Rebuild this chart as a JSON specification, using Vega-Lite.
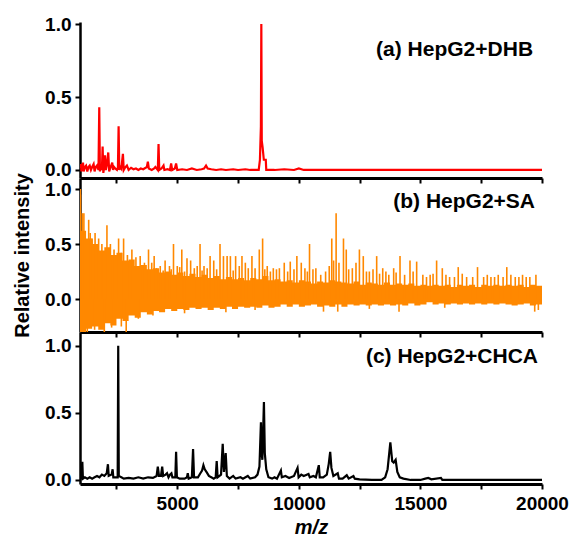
{
  "$schema": "https://vega.github.io/schema/vega-lite/v6.json",
  "autosize": {"type": "pad"},
  "padding": {"left": 12, "top": 15, "right": 0, "bottom": 0},
  "background": "white",
  "spacing": 0,
  "bounds": "flush",
  "config": {
    "view": {"stroke": null},
    "font": "Liberation Sans",
    "axis": {
      "labelFont": "Liberation Sans", "labelFontWeight": "bold", "labelFontSize": 19, "labelColor": "black",
      "titleFont": "Liberation Sans", "titleFontWeight": "bold", "titleFontSize": 20, "titleColor": "black",
      "domainColor": "black", "tickColor": "black", "grid": false, "labelOverlap": false
    },
    "axisX": {"domainWidth": 3, "tickWidth": 2, "tickSize": 5, "labelPadding": 5, "labelFlush": false},
    "axisY": {"domainWidth": 2.5, "tickWidth": 2, "tickSize": 5, "labelPadding": 4}
  },
  "datasets": {
    "a": [
      {"mz":1000,"v":0.01},{"mz":1030,"v":0.04},{"mz":1060,"v":-0.01},{"mz":1090,"v":0.03},{"mz":1123,"v":0.05},{"mz":1150,"v":-0.01},{"mz":1200,"v":0.02},{"mz":1250,"v":0.03},{"mz":1300,"v":-0.01},{"mz":1350,"v":0.02},{"mz":1400,"v":0.03},{"mz":1450,"v":0.0},{"mz":1500,"v":0.02},{"mz":1560,"v":0.04},{"mz":1600,"v":-0.01},{"mz":1650,"v":0.02},{"mz":1700,"v":0.03},{"mz":1760,"v":0.0},{"mz":1792,"v":0.43},{"mz":1820,"v":-0.01},{"mz":1860,"v":0.03},{"mz":1900,"v":0.0},{"mz":1930,"v":0.16},{"mz":1960,"v":-0.02},{"mz":2000,"v":0.03},{"mz":2026,"v":0.1},{"mz":2060,"v":0.0},{"mz":2100,"v":0.03},{"mz":2162,"v":0.12},{"mz":2200,"v":-0.01},{"mz":2260,"v":0.02},{"mz":2326,"v":0.05},{"mz":2360,"v":0.0},{"mz":2400,"v":0.02},{"mz":2450,"v":0.01},{"mz":2520,"v":0.0},{"mz":2560,"v":0.02},{"mz":2588,"v":0.3},{"mz":2615,"v":0.0},{"mz":2660,"v":0.02},{"mz":2700,"v":0.01},{"mz":2765,"v":0.11},{"mz":2800,"v":0.0},{"mz":2870,"v":0.02},{"mz":2929,"v":0.03},{"mz":3000,"v":0.0},{"mz":3100,"v":0.015},{"mz":3200,"v":0.005},{"mz":3300,"v":0.01},{"mz":3400,"v":0.0},{"mz":3500,"v":0.01},{"mz":3600,"v":0.005},{"mz":3700,"v":0.015},{"mz":3750,"v":0.02},{"mz":3791,"v":0.057},{"mz":3830,"v":0.01},{"mz":3950,"v":0.0},{"mz":4050,"v":0.01},{"mz":4100,"v":0.02},{"mz":4200,"v":0.0},{"mz":4230,"v":0.178},{"mz":4260,"v":0.0},{"mz":4350,"v":0.01},{"mz":4435,"v":0.03},{"mz":4470,"v":0.0},{"mz":4600,"v":0.005},{"mz":4700,"v":0.0},{"mz":4748,"v":0.045},{"mz":4790,"v":0.0},{"mz":4900,"v":0.01},{"mz":4952,"v":0.045},{"mz":5000,"v":0.0},{"mz":5200,"v":0.005},{"mz":5400,"v":0.0},{"mz":5600,"v":0.01},{"mz":5800,"v":0.0},{"mz":6000,"v":0.005},{"mz":6100,"v":0.01},{"mz":6183,"v":0.03},{"mz":6250,"v":0.01},{"mz":6400,"v":0.005},{"mz":6600,"v":0.0},{"mz":6800,"v":0.005},{"mz":7000,"v":0.0},{"mz":7300,"v":0.005},{"mz":7500,"v":0.0},{"mz":7800,"v":0.005},{"mz":8000,"v":0.0},{"mz":8350,"v":0.0},{"mz":8400,"v":0.07},{"mz":8440,"v":0.3},{"mz":8457,"v":1.0},{"mz":8475,"v":0.2},{"mz":8510,"v":0.155},{"mz":8560,"v":0.07},{"mz":8640,"v":0.07},{"mz":8660,"v":0.0},{"mz":9000,"v":0.0},{"mz":9400,"v":0.005},{"mz":9800,"v":0.0},{"mz":10000,"v":0.01},{"mz":10200,"v":0.0},{"mz":12000,"v":0.0},{"mz":15000,"v":0.0},{"mz":20000,"v":0.0}
    ],
    "band": [
      {"mz":1000,"lo":-0.3,"hi":0.95},{"mz":1050,"lo":-0.3,"hi":0.62},{"mz":1250,"lo":-0.27,"hi":0.55},{"mz":1500,"lo":-0.25,"hi":0.5},{"mz":1750,"lo":-0.28,"hi":0.44},{"mz":2000,"lo":-0.22,"hi":0.47},{"mz":2250,"lo":-0.24,"hi":0.4},{"mz":2500,"lo":-0.18,"hi":0.42},{"mz":2750,"lo":-0.2,"hi":0.35},{"mz":3000,"lo":-0.15,"hi":0.36},{"mz":3250,"lo":-0.17,"hi":0.3},{"mz":3500,"lo":-0.12,"hi":0.31},{"mz":3750,"lo":-0.14,"hi":0.27},{"mz":4000,"lo":-0.11,"hi":0.28},{"mz":4250,"lo":-0.12,"hi":0.24},{"mz":4500,"lo":-0.09,"hi":0.25},{"mz":4750,"lo":-0.11,"hi":0.22},{"mz":5000,"lo":-0.09,"hi":0.24},{"mz":5250,"lo":-0.1,"hi":0.21},{"mz":5500,"lo":-0.08,"hi":0.23},{"mz":5750,"lo":-0.09,"hi":0.2},{"mz":6000,"lo":-0.08,"hi":0.22},{"mz":6250,"lo":-0.1,"hi":0.19},{"mz":6500,"lo":-0.08,"hi":0.21},{"mz":6750,"lo":-0.09,"hi":0.18},{"mz":7000,"lo":-0.07,"hi":0.2},{"mz":7250,"lo":-0.09,"hi":0.18},{"mz":7500,"lo":-0.07,"hi":0.19},{"mz":7750,"lo":-0.08,"hi":0.17},{"mz":8000,"lo":-0.07,"hi":0.19},{"mz":8250,"lo":-0.08,"hi":0.18},{"mz":8500,"lo":-0.06,"hi":0.21},{"mz":8750,"lo":-0.08,"hi":0.17},{"mz":9000,"lo":-0.07,"hi":0.18},{"mz":9250,"lo":-0.05,"hi":0.16},{"mz":9500,"lo":-0.07,"hi":0.17},{"mz":9750,"lo":-0.05,"hi":0.15},{"mz":10000,"lo":-0.07,"hi":0.17},{"mz":10250,"lo":-0.06,"hi":0.16},{"mz":10500,"lo":-0.05,"hi":0.14},{"mz":10750,"lo":-0.07,"hi":0.16},{"mz":11000,"lo":-0.06,"hi":0.15},{"mz":11250,"lo":-0.07,"hi":0.17},{"mz":11500,"lo":-0.05,"hi":0.16},{"mz":11750,"lo":-0.07,"hi":0.15},{"mz":12000,"lo":-0.05,"hi":0.14},{"mz":12250,"lo":-0.06,"hi":0.16},{"mz":12500,"lo":-0.05,"hi":0.13},{"mz":12750,"lo":-0.06,"hi":0.15},{"mz":13000,"lo":-0.05,"hi":0.14},{"mz":13250,"lo":-0.06,"hi":0.13},{"mz":13500,"lo":-0.05,"hi":0.15},{"mz":13750,"lo":-0.06,"hi":0.13},{"mz":14000,"lo":-0.05,"hi":0.14},{"mz":14250,"lo":-0.06,"hi":0.13},{"mz":14500,"lo":-0.04,"hi":0.14},{"mz":14750,"lo":-0.06,"hi":0.12},{"mz":15000,"lo":-0.05,"hi":0.13},{"mz":15250,"lo":-0.03,"hi":0.12},{"mz":15500,"lo":-0.05,"hi":0.13},{"mz":15750,"lo":-0.04,"hi":0.12},{"mz":16000,"lo":-0.05,"hi":0.13},{"mz":16250,"lo":-0.04,"hi":0.11},{"mz":16500,"lo":-0.05,"hi":0.13},{"mz":16750,"lo":-0.04,"hi":0.12},{"mz":17000,"lo":-0.05,"hi":0.13},{"mz":17250,"lo":-0.04,"hi":0.11},{"mz":17500,"lo":-0.05,"hi":0.13},{"mz":17750,"lo":-0.04,"hi":0.12},{"mz":18000,"lo":-0.05,"hi":0.13},{"mz":18250,"lo":-0.04,"hi":0.12},{"mz":18500,"lo":-0.05,"hi":0.13},{"mz":18750,"lo":-0.06,"hi":0.12},{"mz":19000,"lo":-0.05,"hi":0.13},{"mz":19250,"lo":-0.04,"hi":0.11},{"mz":19500,"lo":-0.06,"hi":0.13},{"mz":19750,"lo":-0.05,"hi":0.12},{"mz":20000,"lo":-0.05,"hi":0.13}
    ],
    "spikes": [
      {"mz":1012,"v":1.0},{"mz":1100,"v":0.78},{"mz":1160,"v":0.78},{"mz":1357,"v":0.72},{"mz":1420,"v":0.6},{"mz":1500,"v":0.55},{"mz":1620,"v":0.6},{"mz":1767,"v":0.55},{"mz":1900,"v":0.5},{"mz":2108,"v":0.67},{"mz":2250,"v":0.5},{"mz":2400,"v":0.45},{"mz":2587,"v":0.55},{"mz":2700,"v":0.42},{"mz":2793,"v":0.55},{"mz":2950,"v":0.4},{"mz":3134,"v":0.45},{"mz":3300,"v":0.38},{"mz":3475,"v":0.39},{"mz":3650,"v":0.33},{"mz":3818,"v":0.45},{"mz":3950,"v":0.33},{"mz":4050,"v":0.39},{"mz":4300,"v":0.3},{"mz":4500,"v":0.35},{"mz":4680,"v":0.3},{"mz":4845,"v":0.5},{"mz":5000,"v":0.3},{"mz":5186,"v":0.45},{"mz":5400,"v":0.37},{"mz":5550,"v":0.35},{"mz":5700,"v":0.28},{"mz":5937,"v":0.5},{"mz":6100,"v":0.3},{"mz":6350,"v":0.39},{"mz":6500,"v":0.35},{"mz":6758,"v":0.5},{"mz":6900,"v":0.39},{"mz":7050,"v":0.39},{"mz":7185,"v":0.39},{"mz":7400,"v":0.39},{"mz":7550,"v":0.3},{"mz":7661,"v":0.39},{"mz":7800,"v":0.33},{"mz":8071,"v":0.39},{"mz":8200,"v":0.28},{"mz":8374,"v":0.45},{"mz":8510,"v":0.55},{"mz":8700,"v":0.3},{"mz":8950,"v":0.28},{"mz":9200,"v":0.28},{"mz":9400,"v":0.33},{"mz":9647,"v":0.34},{"mz":9919,"v":0.39},{"mz":10100,"v":0.33},{"mz":10250,"v":0.28},{"mz":10439,"v":0.5},{"mz":10700,"v":0.28},{"mz":10900,"v":0.22},{"mz":11354,"v":0.55},{"mz":11533,"v":0.78},{"mz":11650,"v":0.33},{"mz":11836,"v":0.55},{"mz":11950,"v":0.45},{"mz":12200,"v":0.28},{"mz":12350,"v":0.33},{"mz":12491,"v":0.45},{"mz":12650,"v":0.39},{"mz":12900,"v":0.25},{"mz":13201,"v":0.39},{"mz":13450,"v":0.28},{"mz":13700,"v":0.22},{"mz":13900,"v":0.28},{"mz":14161,"v":0.39},{"mz":14350,"v":0.22},{"mz":14571,"v":0.35},{"mz":14845,"v":0.34},{"mz":15100,"v":0.22},{"mz":15400,"v":0.22},{"mz":15666,"v":0.35},{"mz":15900,"v":0.28},{"mz":16200,"v":0.2},{"mz":16555,"v":0.29},{"mz":16900,"v":0.2},{"mz":17348,"v":0.29},{"mz":17600,"v":0.2},{"mz":17900,"v":0.2},{"mz":18200,"v":0.22},{"mz":18552,"v":0.29},{"mz":18900,"v":0.2},{"mz":19200,"v":0.22},{"mz":19500,"v":0.2},{"mz":19750,"v":0.22},
      {"mz":3560,"v":0.3},{"mz":4150,"v":0.28},{"mz":4420,"v":0.26},{"mz":4750,"v":0.27},{"mz":5100,"v":0.29},{"mz":5300,"v":0.25},{"mz":5820,"v":0.3},{"mz":6020,"v":0.26},{"mz":6230,"v":0.28},{"mz":6620,"v":0.27},{"mz":7300,"v":0.26},{"mz":7920,"v":0.28},{"mz":8600,"v":0.27},{"mz":8830,"v":0.25},{"mz":9080,"v":0.27},{"mz":9540,"v":0.25},{"mz":9800,"v":0.27},{"mz":10350,"v":0.25},{"mz":10580,"v":0.27},{"mz":11100,"v":0.25},{"mz":11250,"v":0.3},{"mz":11430,"v":0.35},{"mz":12050,"v":0.27},{"mz":12780,"v":0.25},{"mz":13050,"v":0.27},{"mz":13320,"v":0.23},{"mz":13580,"v":0.25},{"mz":14000,"v":0.24},{"mz":14700,"v":0.25},{"mz":15250,"v":0.2},{"mz":15520,"v":0.23},{"mz":16050,"v":0.22},{"mz":16400,"v":0.2},{"mz":16720,"v":0.23},{"mz":17150,"v":0.2},{"mz":17750,"v":0.22},{"mz":18050,"v":0.2},{"mz":18400,"v":0.2},{"mz":18720,"v":0.22},{"mz":19050,"v":0.2},{"mz":19350,"v":0.2},
      {"mz":1050,"v":-0.3},{"mz":1300,"v":-0.3},{"mz":1600,"v":-0.28},{"mz":2000,"v":-0.3},{"mz":2300,"v":-0.26},{"mz":2700,"v":-0.25},{"mz":2900,"v":-0.3},{"mz":3400,"v":-0.18},{"mz":4000,"v":-0.15},{"mz":5300,"v":-0.13},{"mz":7000,"v":-0.12},{"mz":8200,"v":-0.1},{"mz":11014,"v":-0.115},{"mz":11600,"v":-0.115},{"mz":12900,"v":-0.09},{"mz":14120,"v":-0.115},{"mz":16000,"v":-0.08},{"mz":19700,"v":-0.115},{"mz":19850,"v":-0.1}
    ],
    "c": [
      {"mz":1000,"v":0.0},{"mz":1050,"v":0.02},{"mz":1096,"v":0.136},{"mz":1120,"v":0.01},{"mz":1200,"v":0.02},{"mz":1300,"v":0.01},{"mz":1400,"v":0.02},{"mz":1500,"v":0.01},{"mz":1600,"v":0.02},{"mz":1700,"v":0.03},{"mz":1800,"v":0.02},{"mz":1900,"v":0.04},{"mz":2000,"v":0.03},{"mz":2100,"v":0.05},{"mz":2149,"v":0.117},{"mz":2180,"v":0.03},{"mz":2300,"v":0.04},{"mz":2342,"v":0.08},{"mz":2370,"v":0.02},{"mz":2480,"v":0.02},{"mz":2550,"v":0.02},{"mz":2572,"v":1.0},{"mz":2595,"v":0.03},{"mz":2700,"v":0.02},{"mz":2800,"v":0.01},{"mz":3000,"v":0.015},{"mz":3200,"v":0.01},{"mz":3400,"v":0.02},{"mz":3600,"v":0.01},{"mz":3800,"v":0.02},{"mz":4000,"v":0.015},{"mz":4150,"v":0.03},{"mz":4200,"v":0.1},{"mz":4250,"v":0.03},{"mz":4330,"v":0.03},{"mz":4380,"v":0.1},{"mz":4420,"v":0.03},{"mz":4520,"v":0.04},{"mz":4580,"v":0.05},{"mz":4640,"v":0.02},{"mz":4700,"v":0.04},{"mz":4760,"v":0.05},{"mz":4800,"v":0.02},{"mz":4920,"v":0.02},{"mz":4952,"v":0.21},{"mz":4985,"v":0.02},{"mz":5100,"v":0.01},{"mz":5300,"v":0.01},{"mz":5400,"v":0.02},{"mz":5432,"v":0.05},{"mz":5470,"v":0.01},{"mz":5600,"v":0.02},{"mz":5650,"v":0.23},{"mz":5690,"v":0.02},{"mz":5850,"v":0.02},{"mz":5950,"v":0.05},{"mz":6020,"v":0.07},{"mz":6076,"v":0.11},{"mz":6130,"v":0.08},{"mz":6200,"v":0.06},{"mz":6300,"v":0.03},{"mz":6400,"v":0.02},{"mz":6500,"v":0.01},{"mz":6580,"v":0.02},{"mz":6622,"v":0.14},{"mz":6660,"v":0.02},{"mz":6800,"v":0.04},{"mz":6869,"v":0.27},{"mz":6920,"v":0.06},{"mz":6992,"v":0.2},{"mz":7040,"v":0.03},{"mz":7150,"v":0.01},{"mz":7300,"v":0.03},{"mz":7400,"v":0.01},{"mz":7600,"v":0.02},{"mz":7700,"v":0.01},{"mz":7900,"v":0.03},{"mz":8000,"v":0.01},{"mz":8200,"v":0.02},{"mz":8300,"v":0.04},{"mz":8380,"v":0.1},{"mz":8441,"v":0.43},{"mz":8470,"v":0.2},{"mz":8500,"v":0.15},{"mz":8564,"v":0.58},{"mz":8600,"v":0.2},{"mz":8660,"v":0.08},{"mz":8750,"v":0.02},{"mz":8900,"v":0.01},{"mz":9000,"v":0.02},{"mz":9100,"v":0.01},{"mz":9262,"v":0.07},{"mz":9300,"v":0.02},{"mz":9450,"v":0.03},{"mz":9600,"v":0.015},{"mz":9800,"v":0.03},{"mz":9947,"v":0.09},{"mz":9990,"v":0.02},{"mz":10100,"v":0.04},{"mz":10200,"v":0.03},{"mz":10398,"v":0.045},{"mz":10450,"v":0.02},{"mz":10600,"v":0.03},{"mz":10700,"v":0.02},{"mz":10821,"v":0.11},{"mz":10860,"v":0.02},{"mz":11000,"v":0.02},{"mz":11150,"v":0.04},{"mz":11230,"v":0.12},{"mz":11289,"v":0.21},{"mz":11340,"v":0.09},{"mz":11420,"v":0.03},{"mz":11600,"v":0.05},{"mz":11650,"v":0.01},{"mz":11800,"v":0.01},{"mz":11970,"v":0.035},{"mz":12050,"v":0.01},{"mz":12245,"v":0.03},{"mz":12300,"v":0.01},{"mz":12500,"v":0.005},{"mz":13000,"v":0.0},{"mz":13400,"v":0.0},{"mz":13550,"v":0.02},{"mz":13650,"v":0.08},{"mz":13763,"v":0.28},{"mz":13840,"v":0.14},{"mz":13900,"v":0.13},{"mz":13981,"v":0.15},{"mz":14050,"v":0.06},{"mz":14150,"v":0.02},{"mz":14300,"v":0.01},{"mz":14600,"v":0.0},{"mz":15000,"v":0.0},{"mz":15200,"v":0.01},{"mz":15324,"v":0.015},{"mz":15450,"v":0.005},{"mz":15844,"v":0.015},{"mz":15900,"v":0.0},{"mz":17000,"v":0.0},{"mz":20000,"v":0.0}
    ]
  },
  "vconcat": [
    {
      "width": 462, "height": 156,
      "layer": [
        {
          "data": {"name": "a"},
          "mark": {"type": "line", "color": "#ff0000", "strokeWidth": 2.2, "clip": true},
          "encoding": {
            "x": {"field": "mz", "type": "quantitative", "scale": {"domain": [1000, 20000], "nice": false, "zero": false},
                  "axis": {"values": [2500, 5000, 7500, 10000, 12500, 15000, 17500, 20000], "labels": false, "title": null}},
            "y": {"field": "v", "type": "quantitative", "scale": {"domain": [-0.055, 1.014], "nice": false, "zero": false},
                  "axis": {"values": [0, 0.5, 1], "format": ".1f", "title": null}}
          }
        },
        {
          "data": {"values": [{}]},
          "mark": {"type": "text", "align": "right", "baseline": "middle", "fontSize": 21, "fontWeight": "bold", "font": "Liberation Sans", "color": "black", "text": "(a) HepG2+DHB"},
          "encoding": {"x": {"datum": 19632}, "y": {"datum": 0.82}}
        }
      ]
    },
    {
      "width": 462, "height": 154,
      "layer": [
        {
          "data": {"name": "band"},
          "mark": {"type": "area", "color": "#ff8800", "interpolate": "step-after", "clip": true},
          "encoding": {
            "x": {"field": "mz", "type": "quantitative", "scale": {"domain": [1000, 20000], "nice": false, "zero": false},
                  "axis": {"values": [2500, 5000, 7500, 10000, 12500, 15000, 17500, 20000], "labels": false, "title": null}},
            "y": {"field": "lo", "type": "quantitative", "scale": {"domain": [-0.3, 1.1], "nice": false, "zero": false},
                  "axis": {"values": [0, 0.5, 1], "format": ".1f", "title": "Relative intensity", "titlePadding": 12}},
            "y2": {"field": "hi"}
          }
        },
        {
          "data": {"name": "spikes"},
          "mark": {"type": "rule", "color": "#ff8800", "strokeWidth": 1.6, "clip": true},
          "encoding": {
            "x": {"field": "mz", "type": "quantitative"},
            "y": {"field": "v", "type": "quantitative"},
            "y2": {"datum": 0}
          }
        },
        {
          "data": {"values": [{}]},
          "mark": {"type": "text", "align": "right", "baseline": "middle", "fontSize": 21, "fontWeight": "bold", "font": "Liberation Sans", "color": "black", "text": "(b) HepG2+SA"},
          "encoding": {"x": {"datum": 19714}, "y": {"datum": 0.88}}
        }
      ]
    },
    {
      "width": 462, "height": 152,
      "layer": [
        {
          "data": {"name": "c"},
          "mark": {"type": "line", "color": "black", "strokeWidth": 2.2, "clip": true},
          "encoding": {
            "x": {"field": "mz", "type": "quantitative", "scale": {"domain": [1000, 20000], "nice": false, "zero": false},
                  "axis": {"values": [2500, 5000, 7500, 10000, 12500, 15000, 17500, 20000], "format": "d",
                           "labelExpr": "datum.value % 5000 === 0 ? datum.label : ''",
                           "title": "m/z", "titleFontStyle": "italic", "titleFontSize": 20, "titlePadding": 4}},
            "y": {"field": "v", "type": "quantitative", "scale": {"domain": [-0.03, 1.102], "nice": false, "zero": false},
                  "axis": {"values": [0, 0.5, 1], "format": ".1f", "title": null}}
          }
        },
        {
          "data": {"values": [{}]},
          "mark": {"type": "text", "align": "right", "baseline": "middle", "fontSize": 21, "fontWeight": "bold", "font": "Liberation Sans", "color": "black", "text": "(c) HepG2+CHCA"},
          "encoding": {"x": {"datum": 19837}, "y": {"datum": 0.916}}
        }
      ]
    }
  ]
}
